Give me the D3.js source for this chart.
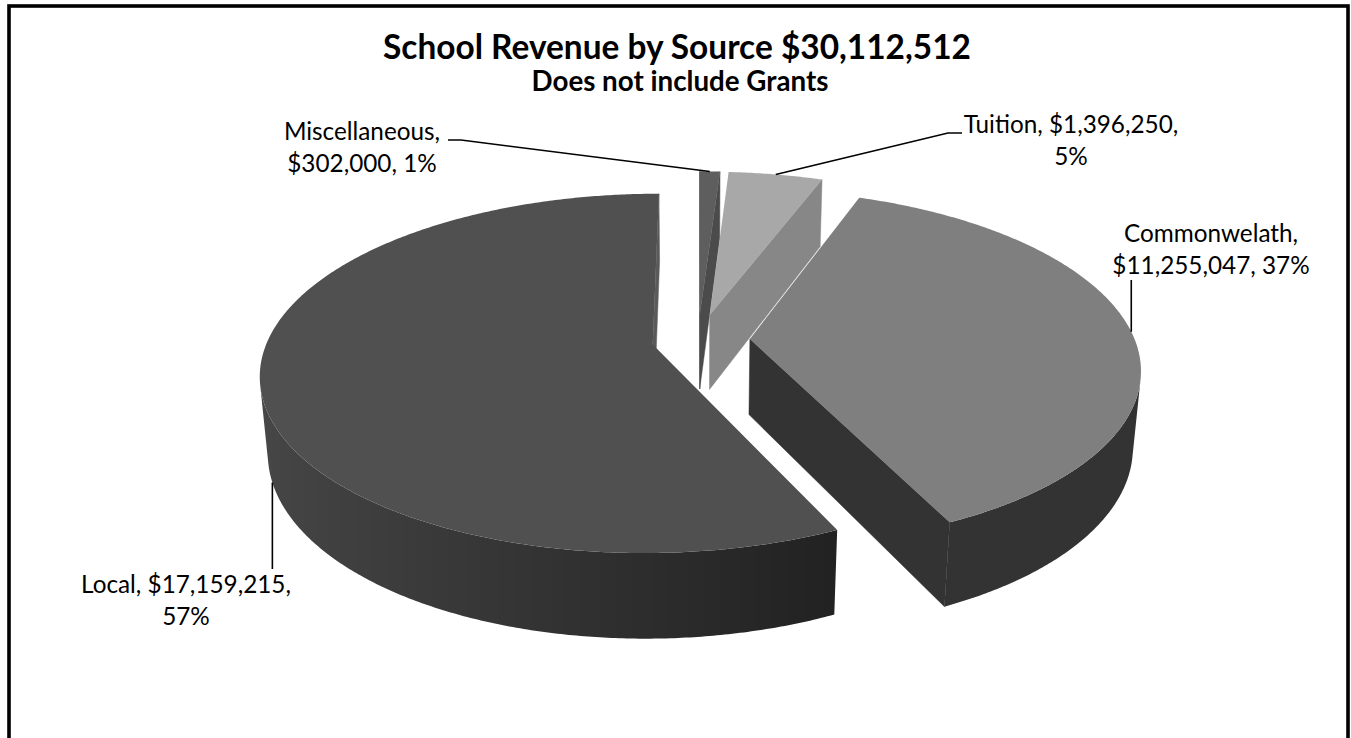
<!DOCTYPE html>
<html>
<head>
<meta charset="utf-8">
<script src="https://cdn.jsdelivr.net/npm/d3@7"></script>
<style>
  body { margin: 0; background: #ffffff; }
  text { font-family: Lato, "Open Sans", sans-serif; fill: #000; }
</style>
</head>
<body>
<svg id="chart" width="1351" height="738"></svg>
<script>
// ---- data ----
const categories = ["Local", "Commonwelath", "Tuition", "Miscellaneous"];
const amounts = [17159215, 11255047, 1396250, 302000];
const titleText = "School Revenue by Source $30,112,512";
const subtitleText = "Does not include Grants";

// ---- styling per slice ----
const topColors = ["#505050", "#7f7f7f", "#a8a8a8", "#5e5e5e"];
const sideColors = [["#212121", "#464646"], ["#333333", "#393939"], ["#878787", "#878787"], ["#4a4a4a", "#4a4a4a"]];
const cutColors = ["#5a5a5a", "#333333", "#878787", "#4b4b4b"];
const explode = [0.12, 0.135, 0.15, 0.15];
// where along each slice's rim the leader line starts (0 = first edge, 1 = last edge)
const leaderAt = [0.47, 0.5, 0.5, 0.5];

// label blocks: centre x, first baseline
const labelPos = [
  { x: 186, y: 593 },
  { x: 1211, y: 242 },
  { x: 1071, y: 133 },
  { x: 362, y: 140 }
];

// ---- 3D view ----
const view = { cx: 698, cy: 340, k: 385, tilt: 26.8, persp: 0.179, depth: 0.224 };
const rad = Math.PI / 180;
const sn = Math.sin(view.tilt * rad), cs = Math.cos(view.tilt * rad);
const camD = 1 / view.persp;
const cam = [0, camD * sn, -camD * cs];

function project(p) {
  const [X, Y, Z] = p;
  const w = 1 + view.persp * (Z * cs - Y * sn);
  return [view.cx + view.k * X / w, view.cy - view.k * (Y * cs + Z * sn) / w];
}
function visible(p, n) {
  return (cam[0] - p[0]) * n[0] + (cam[1] - p[1]) * n[1] + (cam[2] - p[2]) * n[2] > 0;
}
const pathOf = pts => "M" + pts.map(p => project(p).map(v => v.toFixed(2)).join(",")).join("L") + "Z";

const svg = d3.select("#chart");
const defs = svg.append("defs");

// frame
svg.append("rect")
  .attr("x", 9).attr("y", 6).attr("width", 1339).attr("height", 780)
  .attr("fill", "none").attr("stroke", "#000").attr("stroke-width", 3.6);

// ---- pie layout (slices run anticlockwise from 12 o'clock) ----
const pie = d3.pie().sort(null).value(d => d).startAngle(2 * Math.PI).endAngle(0);
const arcs = pie(amounts);
const total = d3.sum(amounts);

const slices = arcs.map((a, i) => {
  const lo = Math.min(a.startAngle, a.endAngle), hi = Math.max(a.startAngle, a.endAngle);
  const mid = (lo + hi) / 2;
  return { i, lo, hi, mid, ox: explode[i] * Math.sin(mid), oz: explode[i] * Math.cos(mid) };
});
const pt = (s, th, r, y) => [s.ox + r * Math.sin(th), y, s.oz + r * Math.cos(th)];

function sideShade(i, th) {
  const t = Math.max(0, Math.min(1, (0.45 - Math.sin(th)) / 1.4));
  return d3.interpolateRgb(sideColors[i][0], sideColors[i][1])(t);
}

const g = svg.append("g");
const order = slices.slice().sort((a, b) => b.oz - a.oz);
const h = view.depth;
const step = 0.5 * rad;

order.forEach(s => {
  const sg = g.append("g");

  // outer wall: contiguous runs of camera-facing rim, each filled with one gradient
  const n = Math.max(2, Math.ceil((s.hi - s.lo) / step));
  const angles = d3.range(n + 1).map(j => s.lo + (s.hi - s.lo) * j / n);
  const runs = [];
  let cur = null;
  for (let j = 0; j < n; j++) {
    const tm = (angles[j] + angles[j + 1]) / 2;
    const vis = visible(pt(s, tm, 1, -h / 2), [Math.sin(tm), 0, Math.cos(tm)]);
    if (vis) {
      if (!cur) { cur = [angles[j]]; runs.push(cur); }
      cur.push(angles[j + 1]);
    } else cur = null;
  }
  runs.forEach((run, r) => {
    const topPts = run.map(t => pt(s, t, 1, 0));
    const botPts = run.map(t => pt(s, t, 1, -h)).reverse();
    const xs = run.map(t => project(pt(s, t, 1, -h / 2))[0]);
    const x0 = d3.min(xs), x1 = d3.max(xs);
    const id = `wall-${s.i}-${r}`;
    const grad = defs.append("linearGradient").attr("id", id)
      .attr("gradientUnits", "userSpaceOnUse")
      .attr("x1", x0).attr("x2", x1).attr("y1", 0).attr("y2", 0);
    const stops = run.map((t, j) => ({ o: (xs[j] - x0) / Math.max(1e-6, x1 - x0), c: sideShade(s.i, t) }))
      .sort((a, b) => a.o - b.o);
    grad.selectAll("stop").data(stops).join("stop")
      .attr("offset", d => d.o).attr("stop-color", d => d.c);
    sg.append("path").attr("d", pathOf(topPts.concat(botPts))).attr("fill", `url(#${id})`);
  });

  // radial cut faces
  const apexT = pt(s, 0, 0, 0), apexB = pt(s, 0, 0, -h);
  const faces = [
    { th: s.lo, n: [-Math.cos(s.lo), 0, Math.sin(s.lo)] },
    { th: s.hi, n: [Math.cos(s.hi), 0, -Math.sin(s.hi)] }
  ];
  faces.forEach(f => {
    if (!visible(apexT, f.n)) return;
    sg.append("path")
      .attr("d", pathOf([apexT, pt(s, f.th, 1, 0), pt(s, f.th, 1, -h), apexB]))
      .attr("fill", cutColors[s.i]).attr("stroke", cutColors[s.i]).attr("stroke-width", 0.5);
  });

  // top face
  const topFace = [apexT].concat(angles.map(t => pt(s, t, 1, 0)));
  sg.append("path").attr("d", pathOf(topFace)).attr("fill", topColors[s.i]);
});

// ---- titles ----
function fitWidth(sel, target) {
  const w = sel.node().getComputedTextLength();
  const fs = parseFloat(sel.attr("font-size"));
  sel.attr("font-size", (fs * target / w).toFixed(2));
}
const title = svg.append("text").attr("x", 677).attr("y", 59).attr("text-anchor", "middle")
  .attr("font-weight", "bold").attr("font-size", 30).text(titleText);
fitWidth(title, 588);
const sub = svg.append("text").attr("x", 680).attr("y", 91).attr("text-anchor", "middle")
  .attr("font-weight", "bold").attr("font-size", 24).text(subtitleText);
fitWidth(sub, 297);

// ---- data labels ----
const fmt = d3.format("$,");
const labelLines = slices.map(s => {
  const name = categories[s.i], v = fmt(amounts[s.i]), p = Math.round(amounts[s.i] / total * 100) + "%";
  if (s.i === 0 || s.i === 2) return [`${name}, ${v},`, p];
  return [`${name},`, `${v}, ${p}`];
});
const probe = svg.append("text").attr("font-size", 20).text(labelLines[0][0]);
fitWidth(probe, 210);
const labelSize = +probe.attr("font-size");
probe.remove();
const lineGap = 32;

slices.forEach(s => {
  const lp = labelPos[s.i];
  const t = svg.append("text").attr("text-anchor", "middle").attr("font-size", labelSize);
  labelLines[s.i].forEach((ln, j) => {
    t.append("tspan").attr("x", lp.x).attr("y", lp.y + j * lineGap).text(ln);
  });
});

// ---- leader lines ----
const leaders = svg.append("g").attr("fill", "none").attr("stroke", "#000").attr("stroke-width", 1.6);
const anchorOf = (s, y) => project(pt(s, s.lo + (s.hi - s.lo) * leaderAt[s.i], 1, y));
// Local: from the foot of the wall straight down to the label
{
  const a = anchorOf(slices[0], -h);
  leaders.append("path").attr("d", `M${a[0]},${a[1]}V${labelPos[0].y - 24}`);
}
// Commonwelath: straight up to the label
{
  const a = anchorOf(slices[1], 0);
  leaders.append("path").attr("d", `M${a[0]},${a[1]}V${labelPos[1].y + lineGap + 6}`);
}
// Tuition: elbow to the right
{
  const a = anchorOf(slices[2], 0);
  leaders.append("path").attr("d", `M${a[0]},${a[1]}L948,${labelPos[2].y}H962`);
}
// Miscellaneous: elbow to the left
{
  const a = anchorOf(slices[3], 0);
  leaders.append("path").attr("d", `M${a[0]},${a[1]}L461,${labelPos[3].y}H448`);
}
</script>
</body>
</html>
